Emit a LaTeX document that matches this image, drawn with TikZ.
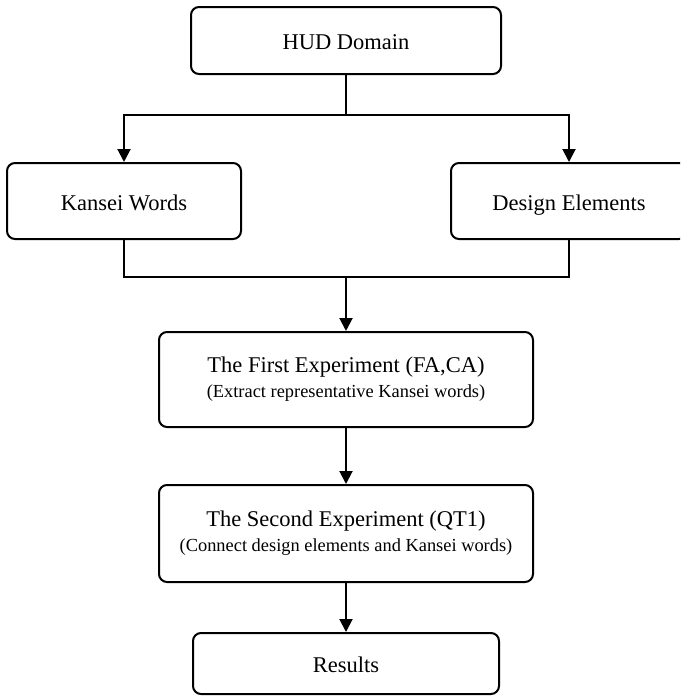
\documentclass[tikz,border=0pt]{standalone}
\usepackage{fontspec}
\setmainfont{Liberation Serif}
\usetikzlibrary{arrows.meta}

\newcommand{\maintext}{\fontsize{11.25}{13.5}\selectfont}
\newcommand{\subtext}{\fontsize{9.2}{11}\selectfont}

\tikzset{
  flowbox/.style={draw, line width=1pt, rounded corners=4pt, inner sep=0pt,
    align=center, font=\maintext},
  oneline/.style={text height=10pt, text depth=1pt},
  link/.style={line width=1pt},
  arrowlink/.style={line width=1pt, -{Triangle[length=6.5pt,width=6.5pt]}},
}

\begin{document}
\begin{tikzpicture}[x=0.5pt, y=-0.5pt]
  \useasboundingbox (0,0) rectangle (680,696);
  \clip (0,0) rectangle (680,696);

  % process boxes
  \node[flowbox, oneline, minimum width=155pt, minimum height=33.5pt] (hud) at (346,40.5) {HUD Domain};
  \node[flowbox, oneline, minimum width=117pt, minimum height=38pt] (kw) at (124,201) {Kansei Words};
  \node[flowbox, oneline, minimum width=118pt, minimum height=38pt] (de) at (569,201) {Design Elements};
  \node[flowbox, minimum width=187pt, minimum height=47.5pt] (fe) at (346,379.5)
    {The First Experiment (FA,CA)\\[-1pt]{\subtext (Extract representative Kansei words)}};
  \node[flowbox, minimum width=187pt, minimum height=48.5pt] (se) at (346,533.5)
    {The Second Experiment (QT1)\\[-1pt]{\subtext (Connect design elements and Kansei words)}};
  \node[flowbox, oneline, minimum width=153pt, minimum height=30.5pt] (res) at (346,663.5) {Results};

  % branching and merging points
  \coordinate (split) at (346,115);
  \coordinate (merge) at (346,277);

  % connectors
  \draw[link] (hud.south) -- (split);
  \draw[arrowlink] (split) -| (kw.north);
  \draw[arrowlink] (split) -| (de.north);
  \draw[link] (kw.south) |- (merge);
  \draw[link] (de.south) |- (merge);
  \draw[arrowlink] (merge) -- (fe.north);
  \draw[arrowlink] (fe.south) -- (se.north);
  \draw[arrowlink] (se.south) -- (res.north);
\end{tikzpicture}
\end{document}
